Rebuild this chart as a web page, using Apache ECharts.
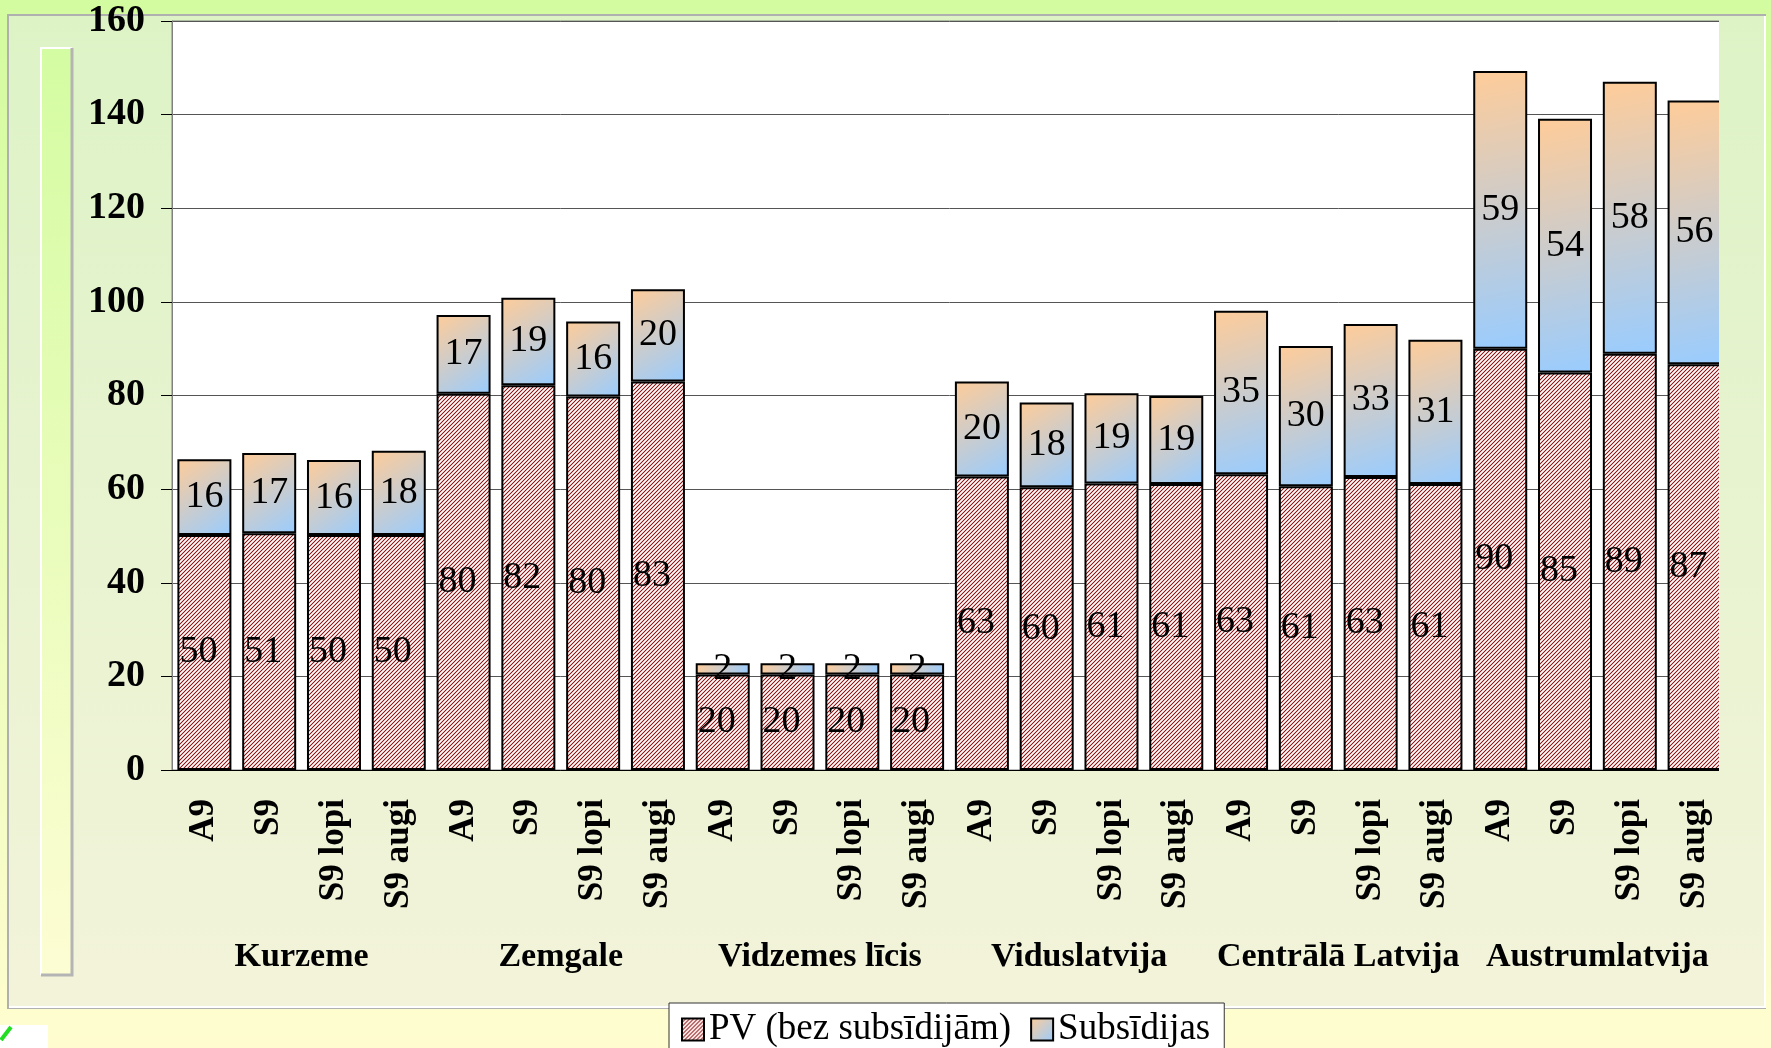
<!DOCTYPE html>
<html>
<head>
<meta charset="utf-8">
<title>PV un subsīdijas</title>
<script src="https://cdn.jsdelivr.net/npm/echarts@6/dist/echarts.min.js"></script>
<style>
  html, body { margin: 0; padding: 0; background: #fefdd0; }
  #chart { width: 1771px; height: 1048px; }
</style>
</head>
<body>
<div id="chart"></div>
<script>
// reģioni un apakškategorijas
const groups = ['Kurzeme', 'Zemgale', 'Vidzemes līcis', 'Viduslatvija', 'Centrālā Latvija', 'Austrumlatvija']
const subCats = ['A9', 'S9', 'S9 lopi', 'S9 augi']
const categories = groups.flatMap(() => subCats)

// vērtības nolasītas no attēla
const pvValues = [
  50.2, 50.6, 50.2, 50.2,
  80.4, 82.2, 79.8, 83.0,
  20.4, 20.4, 20.4, 20.4,
  62.7, 60.4, 61.2, 61.1,
  63.2, 60.6, 62.6, 61.1,
  90.0, 84.9, 88.9, 86.7
]
const subValues = [
  16.2, 17.1, 16.0, 18.0,
  16.8, 18.7, 16.0, 19.7,
  2.4, 2.4, 2.4, 2.4,
  20.3, 18.1, 19.3, 18.8,
  34.9, 30.0, 32.7, 30.8,
  59.3, 54.2, 58.1, 56.3
]
const seriesNames = ['PV (bez subsīdijām)', 'Subsīdijas']

const serif = "'Liberation Serif', 'Times New Roman', serif"

// svītrojums PV stabiem
function makeHatch() {
  const c = document.createElement('canvas')
  c.width = 4
  c.height = 4
  const ctx = c.getContext('2d')
  const img = ctx.createImageData(4, 4)
  for (let y = 0; y < 4; y++) {
    for (let x = 0; x < 4; x++) {
      const k = (x + y) % 4
      let col = [255, 255, 255]
      if (k === 3) col = [145, 24, 24]
      else if (k === 0 || k === 2) col = [232, 196, 196]
      const i = (y * 4 + x) * 4
      img.data[i] = col[0]
      img.data[i + 1] = col[1]
      img.data[i + 2] = col[2]
      img.data[i + 3] = 255
    }
  }
  ctx.putImageData(img, 0, 0)
  return c
}

const chart = echarts.init(document.getElementById('chart'))

const pageGrad = new echarts.graphic.LinearGradient(0, 0, 0, 1048, [
  { offset: 0, color: '#d3fb9f' },
  { offset: 1, color: '#fffdd0' }
], true)
const panelStops = [
  { offset: 0, color: '#ddf3c6' },
  { offset: 1, color: '#f3f3da' }
]
const panelGrad = () => new echarts.graphic.LinearGradient(0, 15, 0, 1008, panelStops, true)

const option = {
  animation: false,
  graphic: [
    { type: 'rect', z: -10, shape: { x: 0, y: 0, width: 1771, height: 1048 }, style: { fill: pageGrad } },
    { type: 'rect', z: -9, shape: { x: 8, y: 15, width: 1757, height: 993 },
      style: { fill: panelGrad(), stroke: '#b0b0b0', lineWidth: 2 } },
    { type: 'polyline', z: -8, shape: { points: [[9, 1007], [1765, 1007], [1765, 16]] },
      style: { stroke: '#ffffff', lineWidth: 2, fill: null } },
    // kreisā dekoratīvā josla
    { type: 'rect', z: -8, shape: { x: 41, y: 48, width: 31, height: 927 },
      style: {
        fill: new echarts.graphic.LinearGradient(0, 0, 0, 1, [
          { offset: 0, color: '#d4fca2' },
          { offset: 1, color: '#fdfdd3' }
        ])
      } },
    { type: 'polyline', z: -7, shape: { points: [[41, 975], [41, 48], [72, 48]] },
      style: { stroke: '#ffffff', lineWidth: 2, fill: null } },
    { type: 'polyline', z: -7, shape: { points: [[72, 48], [72, 975], [41, 975]] },
      style: { stroke: '#b4b4b4', lineWidth: 3, fill: null } },
    { type: 'rect', z: -7, shape: { x: 0, y: 1025, width: 48, height: 23 }, style: { fill: '#ffffff' } },
    { type: 'line', z: -6, shape: { x1: 1, y1: 1040, x2: 11, y2: 1027 },
      style: { stroke: '#22dd22', lineWidth: 4 } },
    // labā mala – grafiks ir nogriezts
    { type: 'rect', z: 50, shape: { x: 1719, y: 16, width: 45, height: 990 }, style: { fill: panelGrad() } },
    { type: 'line', z: 51, shape: { x1: 1765, y1: 16, x2: 1765, y2: 1007 },
      style: { stroke: '#ffffff', lineWidth: 2 } }
  ],
  grid: {
    left: 172,
    top: 21,
    width: 1555,
    height: 749,
    show: true,
    backgroundColor: '#ffffff',
    borderColor: '#808080',
    borderWidth: 1,
    outerBoundsMode: 'none'
  },
  legend: {
    left: 669,
    top: 1003,
    data: seriesNames,
    icon: 'rect',
    backgroundColor: '#ffffff',
    borderColor: '#333333',
    borderWidth: 1,
    padding: [8, 14, 30, 12],
    itemGap: 19,
    itemWidth: 22,
    itemHeight: 22,
    textStyle: { fontFamily: serif, fontSize: 37, color: '#000' }
  },
  xAxis: [
    {
      type: 'category',
      data: categories,
      axisLine: { lineStyle: { color: '#000', width: 1 } },
      axisTick: { interval: 0, length: 137, lineStyle: { color: '#444' } },
      axisLabel: {
        interval: 0,
        rotate: 90,
        margin: 29,
        fontFamily: serif,
        fontWeight: 'bold',
        fontSize: 35,
        color: '#000'
      }
    },
    {
      type: 'category',
      data: groups,
      position: 'bottom',
      axisLine: { show: false },
      axisTick: { interval: 0, length: 209, lineStyle: { color: '#444' } },
      axisLabel: {
        interval: 0,
        margin: 187,
        verticalAlign: 'middle',
        fontFamily: serif,
        fontWeight: 'bold',
        fontSize: 34,
        color: '#000'
      }
    }
  ],
  yAxis: {
    type: 'value',
    min: 0,
    max: 160,
    interval: 20,
    axisLine: { show: true, lineStyle: { color: '#808080', width: 1 } },
    axisTick: { show: true, length: 11, lineStyle: { color: '#000' } },
    splitLine: { lineStyle: { color: '#555', width: 1 } },
    axisLabel: {
      margin: 27,
      fontFamily: serif,
      fontWeight: 'bold',
      fontSize: 38,
      color: '#000'
    }
  },
  series: [
    {
      name: seriesNames[0],
      type: 'bar',
      stack: 'kopā',
      barWidth: 54,
      data: pvValues,
      itemStyle: {
        color: { image: makeHatch(), repeat: 'repeat' },
        borderColor: '#000',
        borderWidth: 2
      },
      label: {
        show: true,
        position: 'inside',
        offset: [-6, 0],
        formatter: p => Math.round(p.value),
        fontFamily: serif,
        fontSize: 38,
        color: '#000'
      }
    },
    {
      name: seriesNames[1],
      type: 'bar',
      stack: 'kopā',
      barWidth: 54,
      data: subValues,
      itemStyle: {
        color: new echarts.graphic.LinearGradient(0, 0, 1, 1, [
          { offset: 0, color: '#ffcc99' },
          { offset: 1, color: '#99ccff' }
        ]),
        borderColor: '#000',
        borderWidth: 2
      },
      label: {
        show: true,
        position: 'inside',
        formatter: p => Math.round(p.value),
        fontFamily: serif,
        fontSize: 38,
        color: '#000'
      }
    }
  ]
}

chart.setOption(option)
</script>
</body>
</html>
